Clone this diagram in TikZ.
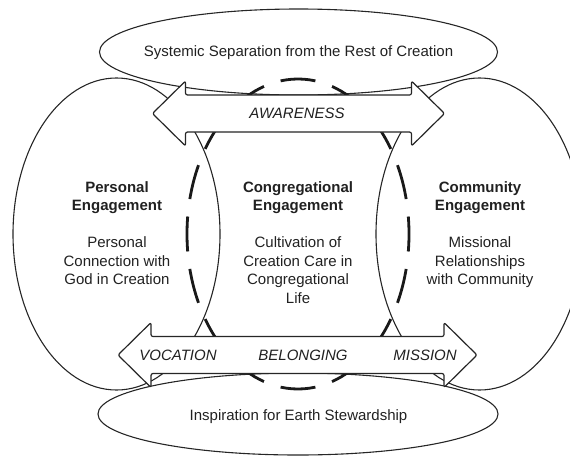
\documentclass[tikz,border=0pt]{standalone}
\usepackage{fontspec}
\setmainfont{Liberation Sans}
\begin{document}
\begin{tikzpicture}[x=1pt,y=-1pt,
  thinline/.style={line width=1.1pt, draw=black!85},
  dashring/.style={line width=2.8pt, draw=black!90, dash pattern=on 35pt off 17.59pt, dash phase=17.5pt},
  blockarrow/.style={line width=1.2pt, draw=black!85, fill=white, rounded corners=2pt, line join=round},
  lbl/.style={font=\fontsize{15}{18}\selectfont, text=black!87, inner sep=0pt, anchor=base},
  bold/.style={lbl, font=\fontsize{15}{18}\selectfont\bfseries},
  ital/.style={lbl, font=\fontsize{15}{18}\selectfont\itshape}]
\clip (0,0) rectangle (570,455);
% outline ellipses
\draw[thinline] (298.5,52) ellipse [x radius=199pt, y radius=43pt];
\draw[thinline] (298,414) ellipse [x radius=200pt, y radius=41pt];
\draw[thinline] (116.5,234) ellipse [x radius=103.5pt, y radius=156pt];
\draw[thinline] (479.5,234) ellipse [x radius=103.5pt, y radius=156pt];
% dashed ring
\draw[dashring] (298,234) ellipse [x radius=111pt, y radius=155pt];
% block arrows
\draw[blockarrow] (152.5,113.5) -- (185.5,81) -- (185.5,95) -- (411.5,95) -- (411.5,81)
  -- (444.5,113.5) -- (411.5,146) -- (411.5,132) -- (185.5,132) -- (185.5,146) -- cycle;
\draw[blockarrow] (118,355) -- (151,322.5) -- (151,336.5) -- (444,336.5) -- (444,322.5)
  -- (477,355) -- (444,387.5) -- (444,373.5) -- (151,373.5) -- (151,387.5) -- cycle;
% texts
\node[lbl] (sys) at (298.5,56) {Systemic Separation from the Rest of Creation};
\node[lbl] (insp) at (298.5,420) {Inspiration for Earth Stewardship};
\node[ital] (aw) at (297,118.5) {AWARENESS};
\node[ital] (voc) at (178,360) {VOCATION};
\node[ital] (bel) at (303,360) {BELONGING};
\node[ital] (mis) at (425,360) {MISSION};
\node[bold] (pe1) at (117,192) {Personal};
\node[bold] (pe2) at (117,210.5) {Engagement};
\node[bold] (ce1) at (298,192) {Congregational};
\node[bold] (ce2) at (298,210.5) {Engagement};
\node[bold] (me1) at (480,192) {Community};
\node[bold] (me2) at (480,210.5) {Engagement};
\node[lbl] (pt1) at (117,247.5) {Personal};
\node[lbl] (pt2) at (117,266) {Connection with};
\node[lbl] (pt3) at (117,284.6) {God in Creation};
\node[lbl] (ct1) at (298,247.5) {Cultivation of};
\node[lbl] (ct2) at (298,266) {Creation Care in};
\node[lbl] (ct3) at (298,284.6) {Congregational};
\node[lbl] (ct4) at (298,303) {Life};
\node[lbl] (mt1) at (480,247.5) {Missional};
\node[lbl] (mt2) at (480,266) {Relationships};
\node[lbl] (mt3) at (480,284.6) {with Community};
\end{tikzpicture}
\end{document}
